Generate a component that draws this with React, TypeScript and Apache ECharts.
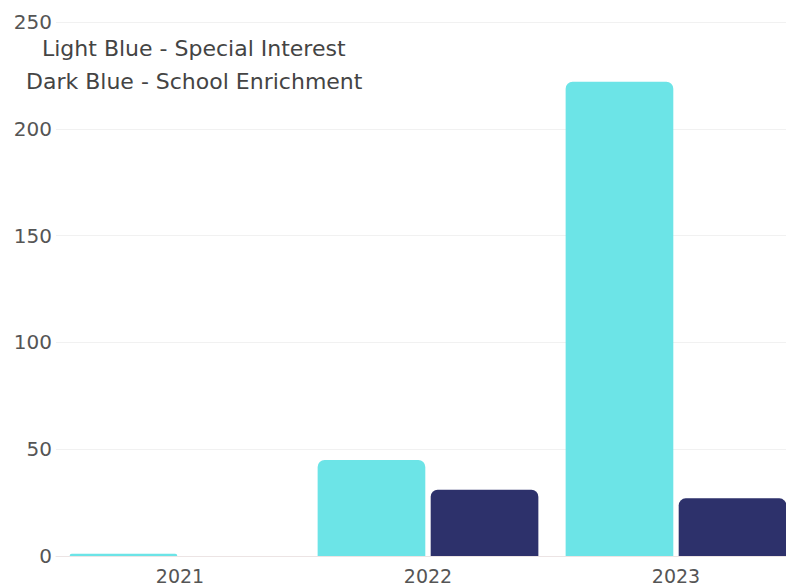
import React, { useEffect, useRef } from "react";
import * as echarts from "echarts";

const categories = ["2021", "2022", "2023"];
const specialInterest = [1, 45, 222];
const schoolEnrichment = [0, 31, 27];
const yTicks = [0, 50, 100, 150, 200, 250];
const notes = ["Light Blue - Special Interest", "Dark Blue - School Enrichment"];

export default function App() {
  const ref = useRef<HTMLDivElement>(null);
  useEffect(() => {
    if (!ref.current) return;
    const chart = echarts.init(ref.current, undefined, { renderer: "svg" });
    const font = "DejaVu Sans";
    chart.setOption({
      animation: false,
      backgroundColor: "#ffffff",
      grid: { left: 56, right: 0, top: 22, bottom: 30, containLabel: false },
      xAxis: {
        type: "category",
        data: categories,
        axisLine: { show: true, lineStyle: { color: "#ece4e4", width: 1 } },
        axisTick: { show: false },
        axisLabel: { color: "#555", fontSize: 19, fontFamily: font, margin: 10 },
      },
      yAxis: {
        type: "value",
        min: yTicks[0],
        max: yTicks[yTicks.length - 1],
        interval: 50,
        axisLine: { show: false },
        axisTick: { show: false },
        axisLabel: { color: "#555", fontSize: 20, fontFamily: font, margin: 4 },
        splitLine: { lineStyle: { color: "#f1f1f1", width: 1 } },
      },
      graphic: notes.map((t, i) => ({
        type: "text",
        left: i === 0 ? 42 : 26,
        top: 37 + i * 33,
        style: { text: t, fill: "#444", fontSize: 22, fontFamily: font },
      })),
      series: [
        {
          type: "bar",
          data: specialInterest,
          barGap: "5%",
          barCategoryGap: "11%",
          itemStyle: { color: "#6ce4e7", borderRadius: [7, 7, 0, 0] },
        },
        {
          type: "bar",
          data: schoolEnrichment,
          itemStyle: { color: "#2d316b", borderRadius: [7, 7, 0, 0] },
        },
      ],
    });
    return () => chart.dispose();
  }, []);
  return (
    <div
      style={{ position: "fixed", left: 0, top: 0, width: 786, height: 586, overflow: "hidden", background: "#fff" }}
    >
      <div ref={ref} style={{ width: 800, height: 586 }} />
    </div>
  );
}
